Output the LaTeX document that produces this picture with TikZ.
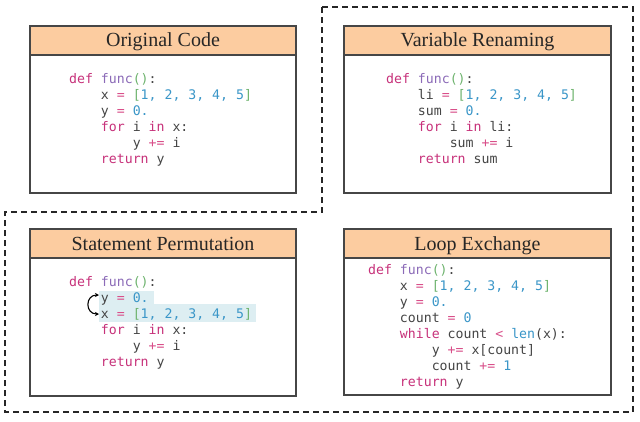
\documentclass[tikz,border=0pt]{standalone}
\usepackage{fontspec}
\setmainfont{Liberation Serif}
\newfontfamily\codefamily{DejaVu Sans Mono}
\usetikzlibrary{arrows.meta}
\definecolor{peach}{HTML}{FCCCA0}
\definecolor{boxgray}{HTML}{464646}
\definecolor{kwc}{HTML}{C7317A}
\definecolor{fnc}{HTML}{8C6BB8}
\definecolor{pnc}{HTML}{6DB36D}
\definecolor{nmc}{HTML}{3A96C8}
\definecolor{opc}{HTML}{D94F8A}
\definecolor{vac}{HTML}{454545}
\definecolor{hlc}{HTML}{DDEEF2}
\newcommand\kw[1]{\textcolor{kwc}{#1}}
\newcommand\fn[1]{\textcolor{fnc}{#1}}
\newcommand\pn[1]{\textcolor{pnc}{#1}}
\newcommand\nm[1]{\textcolor{nmc}{#1}}
\newcommand\op[1]{\textcolor{opc}{#1}}
\newcommand\va[1]{\textcolor{vac}{#1}}
\newcommand\IN{\hphantom{0000}}
\newcommand\deff{\kw{def} \fn{func}\pn{()}\va{:}}
\newcommand\lst{\pn{[}\nm{1, 2, 3, 4, 5}\pn{]}}
\begin{document}
\begin{tikzpicture}[x=1pt,y=-1pt,
  panel/.style={draw=boxgray,line width=1.5pt,fill=white},
  hdr/.style={draw=boxgray,line width=1.5pt,fill=peach},
  title/.style={anchor=base,font=\fontsize{20}{24}\selectfont,text=black!85,inner sep=0},
  code/.style={anchor=base west,inner sep=0,font=\codefamily\fontsize{13.2}{16}\selectfont,text=vac},
  outline/.style={draw=black!85,line width=1.2pt,dash pattern=on 6pt off 4pt},
  swaparrow/.style={draw=black,line width=1.1pt,{Stealth[length=4pt,width=4pt]}-{Stealth[length=4pt,width=4pt]}}]
\useasboundingbox (0,0) rectangle (640,421);
% dashed outline
\draw[outline] (322,7) -- (633,7) -- (633,412) -- (5,412) -- (5,212) -- (322,212) -- cycle;
% panels
\draw[panel] (30,26) rectangle (296,193);
\draw[hdr] (30,26) rectangle (296,55);
\draw[panel] (344,26) rectangle (611,193);
\draw[hdr] (344,26) rectangle (611,55);
\draw[panel] (30,229) rectangle (296,396);
\draw[hdr] (30,229) rectangle (296,258);
\draw[panel] (344,229) rectangle (611,395);
\draw[hdr] (344,229) rectangle (611,258);
% titles
\node[title] (t1) at (163,46) {Original Code};
\node[title] (t2) at (477.5,46) {Variable Renaming};
\node[title] (t3) at (163,250.5) {Statement Permutation};
\node[title] (t4) at (477.5,250.5) {Loop Exchange};
% highlights
\fill[hlc] (99,291) rectangle (154,304);
\fill[hlc] (99,304) rectangle (256,322);
% code
\node[code] (c1) at (69,83) {\vtop{\hbox{\deff}
\hbox{\IN\va{x} \op{=} \lst}
\hbox{\IN\va{y} \op{=} \nm{0.}}
\hbox{\IN\kw{for} \va{i} \kw{in} \va{x:}}
\hbox{\IN\IN\va{y} \op{+=} \va{i}}
\hbox{\IN\kw{return} \va{y}}}};
\node[code] (c2) at (386,83) {\vtop{\hbox{\deff}
\hbox{\IN\va{li} \op{=} \lst}
\hbox{\IN\va{sum} \op{=} \nm{0.}}
\hbox{\IN\kw{for} \va{i} \kw{in} \va{li:}}
\hbox{\IN\IN\va{sum} \op{+=} \va{i}}
\hbox{\IN\kw{return} \va{sum}}}};
\node[code] (c3) at (69,286) {\vtop{\hbox{\deff}
\hbox{\IN\va{y} \op{=} \nm{0.}}
\hbox{\IN\va{x} \op{=} \lst}
\hbox{\IN\kw{for} \va{i} \kw{in} \va{x:}}
\hbox{\IN\IN\va{y} \op{+=} \va{i}}
\hbox{\IN\kw{return} \va{y}}}};
\node[code] (c4) at (368,274) {\vtop{\hbox{\deff}
\hbox{\IN\va{x} \op{=} \lst}
\hbox{\IN\va{y} \op{=} \nm{0.}}
\hbox{\IN\va{count} \op{=} \nm{0}}
\hbox{\IN\kw{while} \va{count} \op{<} \nm{len}\va{(x):}}
\hbox{\IN\IN\va{y} \op{+=} \va{x[count]}}
\hbox{\IN\IN\va{count} \op{+=} \nm{1}}
\hbox{\IN\kw{return} \va{y}}}};
% swap arrow
\coordinate (a1) at (99,295);
\coordinate (a2) at (99,314);
\draw[swaparrow] (a1) .. controls (85,295) and (85,314) .. (a2);
\end{tikzpicture}
\end{document}
